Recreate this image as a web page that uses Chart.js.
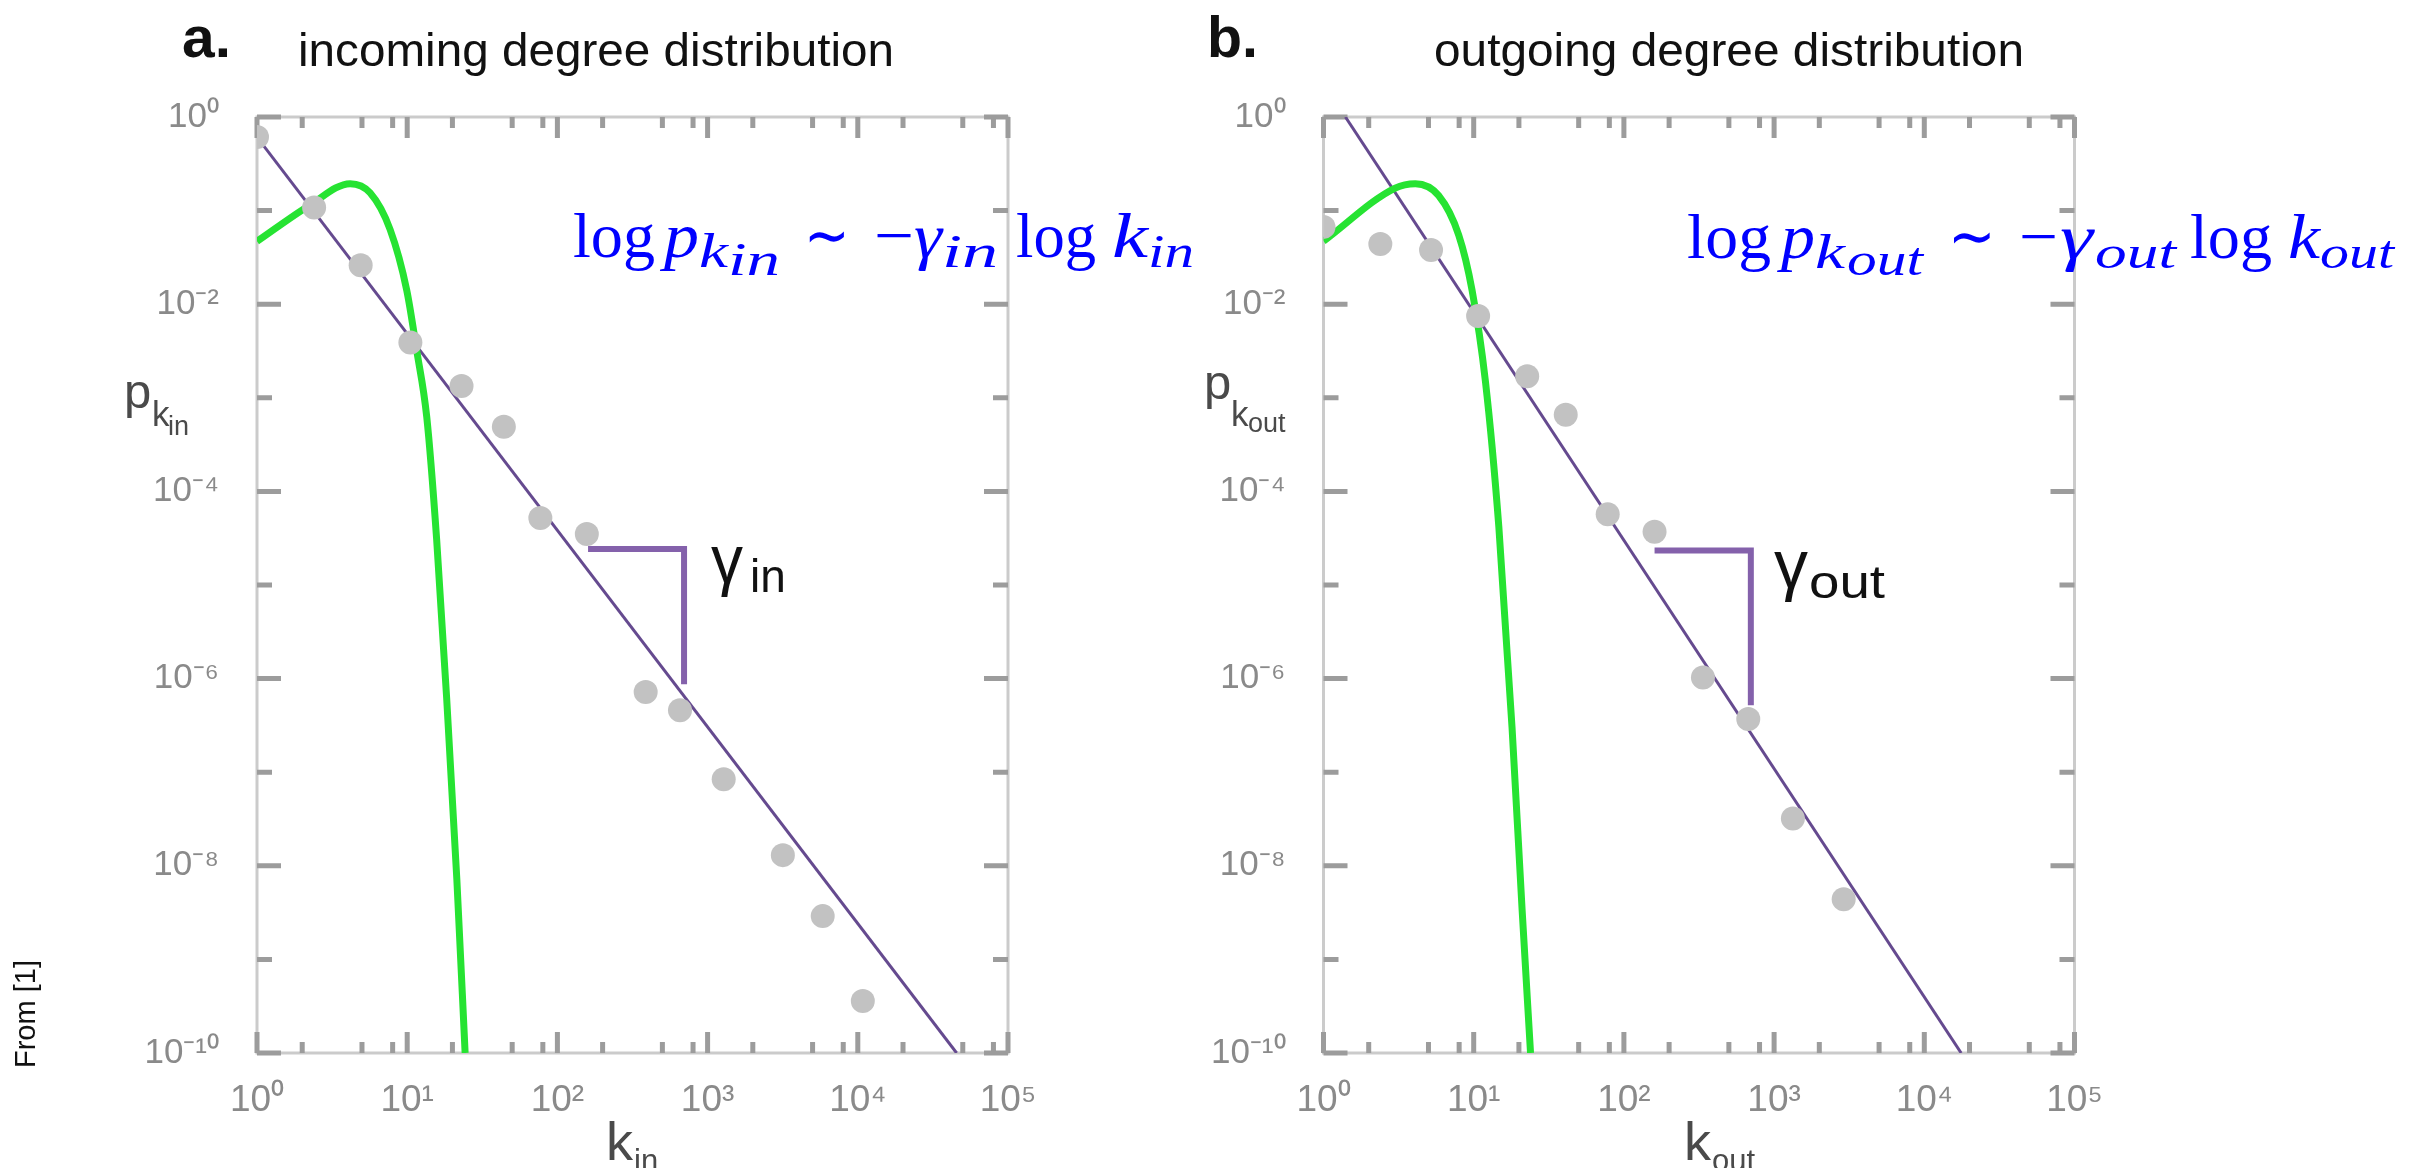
<!DOCTYPE html>
<html>
<head>
<meta charset="utf-8">
<title>Degree distributions</title>
<script src="https://cdn.jsdelivr.net/npm/chart.js@4.4.1/dist/chart.umd.min.js"></script>
<style>
  html, body { margin: 0; background: #fff; }
  #wrap { position: relative; width: 2425px; height: 1168px; overflow: hidden; background: #fff; }
  #wrap canvas { position: absolute; left: 0; top: 0; }
</style>
</head>
<body>
<div id="wrap">
  <canvas id="inChart" width="2425" height="1168"></canvas>
  <canvas id="outChart" width="2425" height="1168"></canvas>
</div>
<script>
// tick marks shared by both panels
const kTicks = [1, 2, 5, 8, 10, 20, 50, 80, 100, 200, 500, 800, 1e3, 2e3, 5e3, 8e3, 1e4, 2e4, 5e4, 8e4, 1e5];
const kDecades = [1, 10, 100, 1e3, 1e4, 1e5];
const pTicks = [1, 1e-1, 1e-2, 1e-3, 1e-4, 1e-5, 1e-6, 1e-7, 1e-8, 1e-9, 1e-10];

// a. incoming degree distribution
const inK = [1, 2.4, 4.9, 10.5, 23, 44, 77, 157, 387, 655, 1280, 3170, 5840, 10800];
const inP = [0.61, 0.108, 0.026, 0.0039, 0.00134, 4.9e-4, 5.2e-5, 3.5e-5, 7.2e-7, 4.6e-7, 8.4e-8, 1.3e-8, 2.9e-9, 3.6e-10];
const inFitK = [1, 45500];
const inFitP = [0.61, 1e-10];
const inPoisK = [1, 2.26, 4.17, 5.66, 7.69, 9.93, 11.57, 13.5, 15.7, 18.3, 21.4, 24.3];
const inPoisP = [0.047, 0.115, 0.194, 0.155, 0.063, 0.0141, 0.0032, 6.2e-4, 3.1e-5, 6.3e-7, 7.2e-9, 1e-10];
const inSlopeK = [160, 697, 697];
const inSlopeP = [2.43e-5, 2.43e-5, 8.7e-7];

// b. outgoing degree distribution
const outK = [1, 2.39, 5.2, 10.7, 22.7, 41, 78, 160, 336, 673, 1334, 2906];
const outP = [0.067, 0.044, 0.038, 0.0075, 0.0017, 6.6e-4, 5.7e-5, 3.7e-5, 1.03e-6, 3.7e-7, 3.2e-8, 4.4e-9];
const outFitK = [1.4, 17600];
const outFitP = [1, 1e-10];
const outPoisK = [1, 3.0, 4.09, 5.84, 7.94, 9.75, 11.97, 14.7, 18, 21, 23.9];
const outPoisP = [0.047, 0.174, 0.194, 0.145, 0.055, 0.0141, 0.0015, 4.2e-5, 3.0e-7, 3.4e-9, 1e-10];
const outSlopeK = [160, 700, 700];
const outSlopeP = [2.34e-5, 2.34e-5, 5.2e-7];

const SUP = {'0':'⁰','1':'¹','2':'²','3':'³','4':'⁴','5':'⁵','6':'⁶','7':'⁷','8':'⁸','9':'⁹','-':'⁻'};
const pow10 = e => '10' + String(e).split('').map(c => SUP[c]).join('');
const xy = (xs, ys) => xs.map((x, i) => ({x, y: ys[i]}));

const BLUE = '#0000ff';
const GREY = '#4a4a4a';
const SANS = '"Liberation Sans", Arial, sans-serif';
const SERIF = '"Liberation Serif", "Times New Roman", serif';
const TICKFONT = '"Liberation Sans Narrow", "Liberation Sans", sans-serif';

// gray frame plus inward tick marks on all four sides
const frameTicks = {
    id: 'frameTicks',
    beforeDatasetsDraw(chart) {
        const {ctx, chartArea: a, scales: {x, y}} = chart;
        ctx.save();
        ctx.strokeStyle = '#cbcbcb';
        ctx.lineWidth = 3;
        ctx.strokeRect(a.left, a.top, a.right - a.left, a.bottom - a.top);
        ctx.strokeStyle = '#9c9c9c';
        ctx.lineWidth = 5;
        ctx.beginPath();
        kTicks.forEach(v => {
            const px = x.getPixelForValue(v);
            const len = kDecades.includes(v) ? 21 : 11;
            ctx.moveTo(px, a.top); ctx.lineTo(px, a.top + len);
            ctx.moveTo(px, a.bottom); ctx.lineTo(px, a.bottom - len);
        });
        pTicks.forEach((v, i) => {
            const py = y.getPixelForValue(v);
            const len = i % 2 === 0 ? 24 : 15;
            ctx.moveTo(a.left, py); ctx.lineTo(a.left + len, py);
            ctx.moveTo(a.right, py); ctx.lineTo(a.right - len, py);
        });
        ctx.stroke();
        ctx.restore();
    }
};

function drawText(ctx, it) {
    ctx.save();
    ctx.font = it.f;
    ctx.fillStyle = it.c || '#111';
    ctx.textBaseline = 'alphabetic';
    ctx.translate(it.x, it.y);
    if (it.rot) ctx.rotate(it.rot * Math.PI / 180);
    if (it.w) ctx.scale(it.w / ctx.measureText(it.t).width, 1);
    ctx.fillText(it.t, 0, 0);
    ctx.restore();
}

const textPlugin = items => ({
    id: 'panelText',
    afterDraw(chart) {
        items.forEach(it => drawText(chart.ctx, it));
    }
});

const M64 = '64px ' + SERIF, I64 = 'italic 64px ' + SERIF, I48 = 'italic 48px ' + SERIF, I46 = 'italic 46px ' + SERIF;

const inTexts = [
    {t: 'a.', f: 'bold 58px ' + SANS, x: 182, y: 57, w: 49},
    {t: 'incoming degree distribution', f: '47px ' + SANS, x: 298, y: 66, w: 596},
    {t: 'log', f: M64, x: 573, y: 257, w: 82, c: BLUE},
    {t: 'p', f: I64, x: 664, y: 257, w: 35, c: BLUE},
    {t: 'k', f: I48, x: 699, y: 267, w: 29, c: BLUE},
    {t: 'in', f: I46, x: 728, y: 275, w: 52, c: BLUE},
    {t: '∼', f: M64, x: 804, y: 257, w: 46, c: BLUE},
    {t: '−', f: M64, x: 874, y: 257, w: 40, c: BLUE},
    {t: 'γ', f: I64, x: 914, y: 257, w: 28, c: BLUE},
    {t: 'in', f: I46, x: 942, y: 267, w: 56, c: BLUE},
    {t: 'log', f: M64, x: 1016, y: 257, w: 80, c: BLUE},
    {t: 'k', f: I64, x: 1112, y: 257, w: 36, c: BLUE},
    {t: 'in', f: I46, x: 1148, y: 267, w: 46, c: BLUE},
    {t: 'γ', f: '68px ' + SANS, x: 711, y: 583, w: 32},
    {t: 'in', f: '46px ' + SANS, x: 750, y: 592},
    {t: 'p', f: '49px ' + SANS, x: 124, y: 408, c: GREY},
    {t: 'k', f: '35px ' + SANS, x: 152, y: 426, c: GREY},
    {t: 'in', f: '27px ' + SANS, x: 168, y: 435, c: GREY},
    {t: 'k', f: '54px ' + SANS, x: 606, y: 1160, c: GREY},
    {t: 'in', f: '31px ' + SANS, x: 634, y: 1171, c: GREY},
    {t: 'From [1]', f: '29px ' + SANS, x: 35, y: 1068, rot: -90}
];

const outTexts = [
    {t: 'b.', f: 'bold 58px ' + SANS, x: 1207, y: 57, w: 51},
    {t: 'outgoing degree distribution', f: '47px ' + SANS, x: 1434, y: 66, w: 590},
    {t: 'log', f: M64, x: 1687, y: 258, w: 84, c: BLUE},
    {t: 'p', f: I64, x: 1781, y: 258, w: 34, c: BLUE},
    {t: 'k', f: I48, x: 1815, y: 268, w: 30, c: BLUE},
    {t: 'out', f: I46, x: 1847, y: 275, w: 76, c: BLUE},
    {t: '∼', f: M64, x: 1948, y: 258, w: 48, c: BLUE},
    {t: '−', f: M64, x: 2019, y: 258, w: 39, c: BLUE},
    {t: 'γ', f: I64, x: 2060, y: 258, w: 33, c: BLUE},
    {t: 'out', f: I46, x: 2095, y: 268, w: 81, c: BLUE},
    {t: 'log', f: M64, x: 2190, y: 258, w: 82, c: BLUE},
    {t: 'k', f: I64, x: 2288, y: 258, w: 32, c: BLUE},
    {t: 'out', f: I46, x: 2320, y: 268, w: 74, c: BLUE},
    {t: 'γ', f: '68px ' + SANS, x: 1774, y: 588, w: 34},
    {t: 'out', f: '46px ' + SANS, x: 1809, y: 598, w: 76},
    {t: 'p', f: '49px ' + SANS, x: 1204, y: 399, c: GREY},
    {t: 'k', f: '35px ' + SANS, x: 1231, y: 426, c: GREY},
    {t: 'out', f: '27px ' + SANS, x: 1248, y: 432, c: GREY},
    {t: 'k', f: '54px ' + SANS, x: 1684, y: 1160, c: GREY},
    {t: 'out', f: '31px ' + SANS, x: 1712, y: 1171, c: GREY}
];

function makeChart(id, d, box, texts) {
    const ctx = document.getElementById(id).getContext('2d');
    return new Chart(ctx, {
        type: 'line',
        data: {
            datasets: [
                {
                    data: xy(d.k, d.p),
                    showLine: false,
                    pointRadius: 12,
                    pointHoverRadius: 12,
                    backgroundColor: '#c2c2c2',
                    pointBorderWidth: 0,
                    order: 0
                },
                {
                    data: xy(d.poisK, d.poisP),
                    borderColor: '#26e332',
                    borderWidth: 7,
                    pointRadius: 0,
                    cubicInterpolationMode: 'monotone',
                    order: 1
                },
                {
                    data: xy(d.fitK, d.fitP),
                    borderColor: '#654a8f',
                    borderWidth: 3,
                    pointRadius: 0,
                    order: 2
                },
                {
                    data: xy(d.slopeK, d.slopeP),
                    borderColor: '#8461ab',
                    borderWidth: 6,
                    borderJoinStyle: 'miter',
                    pointRadius: 0,
                    order: 3
                }
            ]
        },
        options: {
            responsive: false,
            devicePixelRatio: 1,
            animation: false,
            events: [],
            layout: {padding: {top: 117, right: 2425 - box.right, left: 0, bottom: 0}},
            plugins: {legend: {display: false}, tooltip: {enabled: false}},
            scales: {
                x: {
                    type: 'logarithmic',
                    min: 1,
                    max: 1e5,
                    afterBuildTicks: s => { s.ticks = kTicks.map(v => ({value: v})); },
                    afterFit: s => { s.height = 1168 - 1053; },
                    grid: {display: false, drawTicks: false},
                    border: {display: false},
                    ticks: {
                        autoSkip: false,
                        maxRotation: 0,
                        padding: 26,
                        color: '#8a8a8a',
                        font: {family: TICKFONT, size: 37},
                        callback: v => kDecades.includes(v) ? pow10(Math.round(Math.log10(v))) : ''
                    }
                },
                y: {
                    type: 'logarithmic',
                    min: 1e-10,
                    max: 1,
                    afterBuildTicks: s => { s.ticks = pTicks.map(v => ({value: v})); },
                    afterFit: s => { s.width = box.left; },
                    grid: {display: false, drawTicks: false},
                    border: {display: false},
                    ticks: {
                        autoSkip: false,
                        padding: 38,
                        color: '#8a8a8a',
                        font: {family: TICKFONT, size: 35},
                        callback: v => {
                            const e = Math.round(Math.log10(v));
                            return e % 2 === 0 ? pow10(e) : '';
                        }
                    }
                }
            }
        },
        plugins: [frameTicks, textPlugin(texts)]
    });
}

makeChart('inChart',
    {k: inK, p: inP, poisK: inPoisK, poisP: inPoisP, fitK: inFitK, fitP: inFitP, slopeK: inSlopeK, slopeP: inSlopeP},
    {left: 257, right: 1008}, inTexts);

makeChart('outChart',
    {k: outK, p: outP, poisK: outPoisK, poisP: outPoisP, fitK: outFitK, fitP: outFitP, slopeK: outSlopeK, slopeP: outSlopeP},
    {left: 1323.5, right: 2074.5}, outTexts);
</script>
</body>
</html>
